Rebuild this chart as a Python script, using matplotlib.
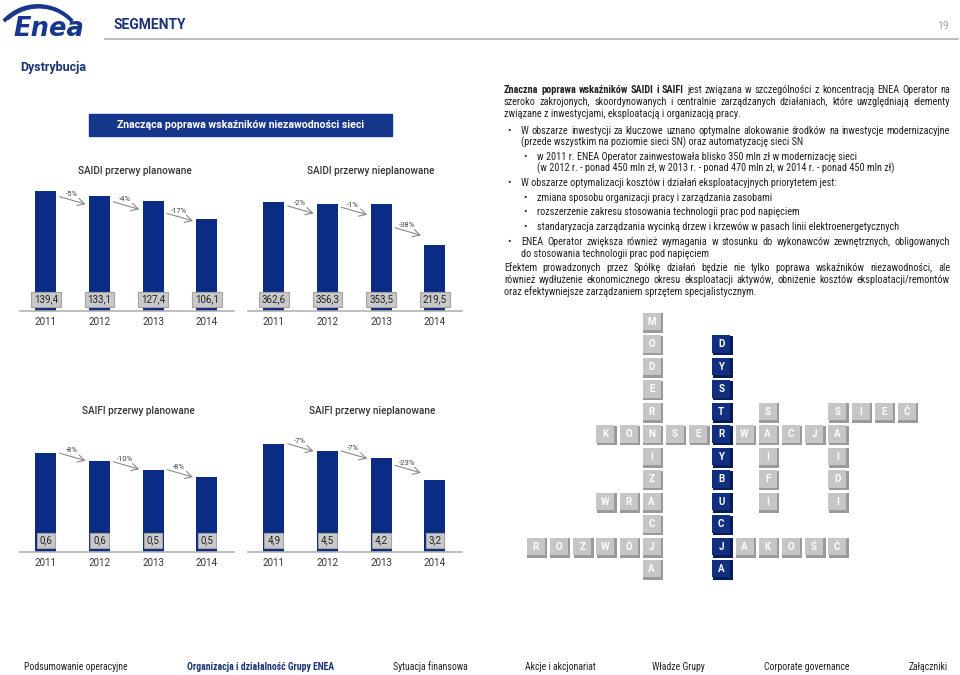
import matplotlib
matplotlib.use('Agg')
import matplotlib.pyplot as plt
from matplotlib import font_manager
from matplotlib.patches import Rectangle, Arc

W, H = 960, 675

# fonts: prefer a narrow face when one is installed
names = {f.name for f in font_manager.fontManager.ttflist}
BODY = 'Roboto'
NARROW = next((n for n in ['Roboto Condensed', 'Liberation Sans Narrow'] if n in names), 'Roboto')

NAVY = '#0b2c84'
BANNER = '#17378c'
HEAD_BLUE = '#1b3478'
DARK = '#222222'
GRID_GRAY = '#b3b3b3'

# ---- data ----
years = ['2011', '2012', '2013', '2014']

saidi_plan = [139.4, 133.1, 127.4, 106.1]
saidi_plan_chg = ['-5%', '-4%', '-17%']
saidi_unplan = [362.6, 356.3, 353.5, 219.5]
saidi_unplan_chg = ['-2%', '-1%', '-38%']
saifi_plan = [0.63, 0.58, 0.52, 0.48]
saifi_plan_chg = ['-8%', '-10%', '-8%']
saifi_unplan = [4.86, 4.52, 4.20, 3.23]
saifi_unplan_chg = ['-7%', '-7%', '-23%']

chart_titles = ['SAIDI przerwy planowane', 'SAIDI przerwy nieplanowane',
                'SAIFI przerwy planowane', 'SAIFI przerwy nieplanowane']
banner_text = 'Znacząca poprawa wskaźników niezawodności sieci'

bold_lead = 'Znaczna poprawa wskaźników SAIDI i SAIFI'
body_lines = [
    'Znaczna poprawa wskaźników SAIDI i SAIFI jest związana w szczególności z koncentracją ENEA Operator na',
    'szeroko zakrojonych, skoordynowanych i centralnie zarządzanych działaniach, które uwzględniają elementy',
    'związane z inwestycjami, eksploatacją i organizacją pracy.',
    'W obszarze inwestycji za kluczowe uznano optymalne alokowanie środków na inwestycje modernizacyjne',
    '(przede wszystkim na poziomie sieci SN) oraz automatyzację sieci SN',
    'w 2011 r. ENEA Operator zainwestowała blisko 350 mln zł w modernizację sieci',
    '(w 2012 r. - ponad 450 mln zł, w 2013 r. - ponad 470 mln zł, w 2014 r. - ponad 450 mln zł)',
    'W obszarze optymalizacji kosztów i działań eksploatacyjnych priorytetem jest:',
    'zmiana sposobu organizacji pracy i zarządzania zasobami',
    'rozszerzenie zakresu stosowania technologii prac pod napięciem',
    'standaryzacja zarządzania wycinką drzew i krzewów w pasach linii elektroenergetycznych',
    'ENEA Operator zwiększa również wymagania w stosunku do wykonawców zewnętrznych, obligowanych',
    'do stosowania technologii prac pod napięciem',
    'Efektem prowadzonych przez Spółkę działań będzie nie tylko poprawa wskaźników niezawodności, ale',
    'również wydłużenie ekonomicznego okresu eksploatacji aktywów, obniżenie kosztów eksploatacji/remontów',
    'oraz efektywniejsze zarządzaniem sprzętem specjalistycznym.',
]

# crossword words: (word, row, col, direction)
cross_words = [
    ('MODERNIZACJA', 0, 5, 'v'),
    ('KONSERWACJA', 5, 3, 'h'),
    ('SAIFI', 4, 10, 'v'),
    ('SAIDI', 4, 13, 'v'),
    ('SIEĆ', 4, 13, 'h'),
    ('WRA', 8, 3, 'h'),
    ('ROZWÓJ', 10, 0, 'h'),
    ('JAKOŚĆ', 10, 8, 'h'),
    ('DYSTRYBUCJA', 1, 8, 'v'),
]
cross_highlight = 'DYSTRYBUCJA'

footer_items = ['Podsumowanie operacyjne', 'Organizacja i działalność Grupy ENEA',
                'Sytuacja finansowa', 'Akcje i akcjonariat', 'Władze Grupy',
                'Corporate governance', 'Załączniki']
footer_active = 1

# ---- figure ----
fig = plt.figure(figsize=(W / 100, H / 100), dpi=100)
bg = fig.add_axes([0, 0, 1, 1])
bg.set_xlim(0, W)
bg.set_ylim(H, 0)
bg.axis('off')

# header
bg.add_patch(Arc((38, 52), 92, 92, theta1=222, theta2=318, color=BANNER, lw=2.8))
bg.add_patch(Arc((39, 54), 92, 92, theta1=228, theta2=312, color=BANNER, lw=0.8))
bg.text(13, 36, 'Enea', fontsize=18.5, fontweight='heavy', style='italic',
        family='DejaVu Sans', color=BANNER, va='baseline', ha='left')
bg.text(113, 25, 'SEGMENTY', fontsize=10, fontweight='bold', family=BODY,
        color=HEAD_BLUE, va='center')
bg.text(949, 26, '19', fontsize=7.5, family=BODY, color='#a0a0a0', va='center', ha='right')
bg.plot([105, 958], [39, 39], color=GRID_GRAY, lw=1.2)
bg.text(20, 67, 'Dystrybucja', fontsize=9, fontweight='bold', family=BODY,
        color=HEAD_BLUE, va='center')

# banner
bg.add_patch(Rectangle((89, 114), 303, 22, color=BANNER))
bg.text(240.5, 125.5, banner_text, fontsize=7.6, fontweight='bold', family=BODY,
        color='white', ha='center', va='center')

# chart titles
for title, (tx, ty) in zip(chart_titles, [(135, 171), (371, 171), (138, 411.5), (372, 411.5)]):
    bg.text(tx, ty, title, fontsize=7.2, fontweight='medium', family=BODY,
            color='#333333', ha='center', va='center')

# ---- bar charts ----
PITCH = 53.7      # px between bars
BAR_W = 21 / PITCH


def bar_chart(values, changes, left, base, height, ppu, arrow_off):
    ax = fig.add_axes([left / W, 1 - base / H, 214 / W, height / H])
    ax.patch.set_alpha(0)
    x = list(range(len(values)))
    ax.bar(x, values, width=BAR_W, color=NAVY, zorder=2)
    ax.set_xlim(-0.48, 214 / PITCH - 0.48)
    ax.set_ylim(0, height / ppu)
    for s in ['top', 'left', 'right']:
        ax.spines[s].set_visible(False)
    ax.spines['bottom'].set_color(GRID_GRAY)
    ax.spines['bottom'].set_linewidth(1.2)
    ax.set_yticks([])
    ax.set_xticks(x, years)
    ax.tick_params(axis='x', length=0, pad=4.5, labelsize=7, labelcolor='#333333')
    for lab in ax.get_xticklabels():
        lab.set_family(BODY)
    for i, v in enumerate(values):
        ax.annotate(f'{v:.1f}'.replace('.', ','), xy=(i, 0), xytext=(0, 11 * 0.72),
                    textcoords='offset points', ha='center', va='center',
                    fontsize=7, family=BODY, color='#222222', zorder=3,
                    bbox=dict(boxstyle='square,pad=0.28', fc='#c9c9c9', ec='#a3a3a3', lw=0.8))
    half_dx = 13 / PITCH
    half_dy = 3.75 / ppu
    for i, chg in enumerate(changes):
        xm = i + 0.5
        ym = (values[i] + values[i + 1]) / 2 - arrow_off / ppu
        ax.annotate('', xy=(xm + half_dx, ym - half_dy), xytext=(xm - half_dx, ym + half_dy),
                    arrowprops=dict(arrowstyle='->,head_length=0.55,head_width=0.3',
                                    color='#8a8a8a', lw=0.8, mutation_scale=9,
                                    shrinkA=0, shrinkB=0))
        ax.text(xm - 0.02, ym + 6.5 / ppu, chg, ha='center', va='center',
                fontsize=5.5, family=BODY, color='#444444')
    return ax


bar_chart(saidi_plan, saidi_plan_chg, 20, 310.7, 150, 120 / saidi_plan[0], 7)
bar_chart(saidi_unplan, saidi_unplan_chg, 248, 310.7, 150, 109 / saidi_unplan[0], 7)
bar_chart(saifi_plan, saifi_plan_chg, 20, 551.7, 130, 98.7 / saifi_plan[0], 0)
bar_chart(saifi_unplan, saifi_unplan_chg, 248, 551.7, 130, 108 / saifi_unplan[0], 0)

# ---- right text block ----
renderer = fig.canvas.get_renderer()
BODY_SIZE = 7.4
BASE_SHIFT = 2.7   # px from line centre down to baseline


def put_line(text, x0, y, right=None, bold_words=0):
    yb = y + BASE_SHIFT
    if right is None and bold_words == 0:
        bg.text(x0, yb, text, fontsize=BODY_SIZE, family=NARROW, color=DARK, va='baseline')
        return
    items = []
    for k, word in enumerate(text.split(' ')):
        t = bg.text(x0, yb, word, fontsize=BODY_SIZE, family=NARROW, color=DARK, va='baseline',
                    fontweight='bold' if k < bold_words else 'normal')
        items.append((t, t.get_window_extent(renderer).width))
    total = sum(w for _, w in items)
    gap = BODY_SIZE * 100 / 72 * 0.25
    if right is not None and len(items) > 1:
        gap = (right - x0 - total) / (len(items) - 1)
    x = x0
    for t, w in items:
        t.set_x(x)
        x += w + gap


# (x, y, bullet x or None, justify)
line_layout = [
    (504, 90, None, True), (504, 102, None, True), (504, 114, None, False),
    (521, 131, 509, True), (521, 143, None, False),
    (537, 157, 525, False), (537, 169, None, False),
    (521, 183, 509, False),
    (537, 198, 525, False), (537, 212, 525, False), (537, 227, 525, False),
    (521, 242, 509, True), (521, 254, None, False),
    (504, 268, None, True), (504, 280, None, True), (504, 292, None, False),
]
RIGHT = 950
for k, (text, (lx, ly, bx, just)) in enumerate(zip(body_lines, line_layout)):
    if bx is not None:
        bg.text(bx, ly + BASE_SHIFT, '•', fontsize=BODY_SIZE, family=NARROW, color=DARK,
                va='baseline', ha='center')
    put_line(text, lx, ly, RIGHT if just else None,
             len(bold_lead.split(' ')) if k == 0 else 0)

# ---- crossword ----
cells = {}
for word, r, c, d in cross_words:
    for k, ch in enumerate(word):
        rr, cc = (r + k, c) if d == 'v' else (r, c + k)
        blue = word == cross_highlight or cells.get((rr, cc), ('', False))[1]
        cells[(rr, cc)] = (ch, blue)

X0, Y0, DX, DY = 536.7, 322.7, 23.2, 22.48
for (r, c), (ch, blue) in cells.items():
    cx, cy = X0 + c * DX, Y0 + r * DY
    face, shade = ('#10307f', '#081d56') if blue else ('#c6c6c6', '#9a9a9a')
    bg.add_patch(Rectangle((cx - 9.5, cy - 9.5), 20, 19.5, color=shade, lw=0))
    bg.add_patch(Rectangle((cx - 10, cy - 10), 18, 17.5, color=face, lw=0))
    bg.text(cx - 1, cy - 1, ch, fontsize=7, fontweight='bold', family=BODY,
            color='white', ha='center', va='center')

# ---- footer ----
for k, (label, fx) in enumerate(zip(footer_items, [76, 261, 430, 560, 678, 807, 928])):
    active = k == footer_active
    bg.text(fx, 667, label, fontsize=7, family=NARROW, ha='center', va='center',
            fontweight='bold' if active else 'normal',
            color=HEAD_BLUE if active else DARK)

fig.savefig('out.png', dpi=100)
